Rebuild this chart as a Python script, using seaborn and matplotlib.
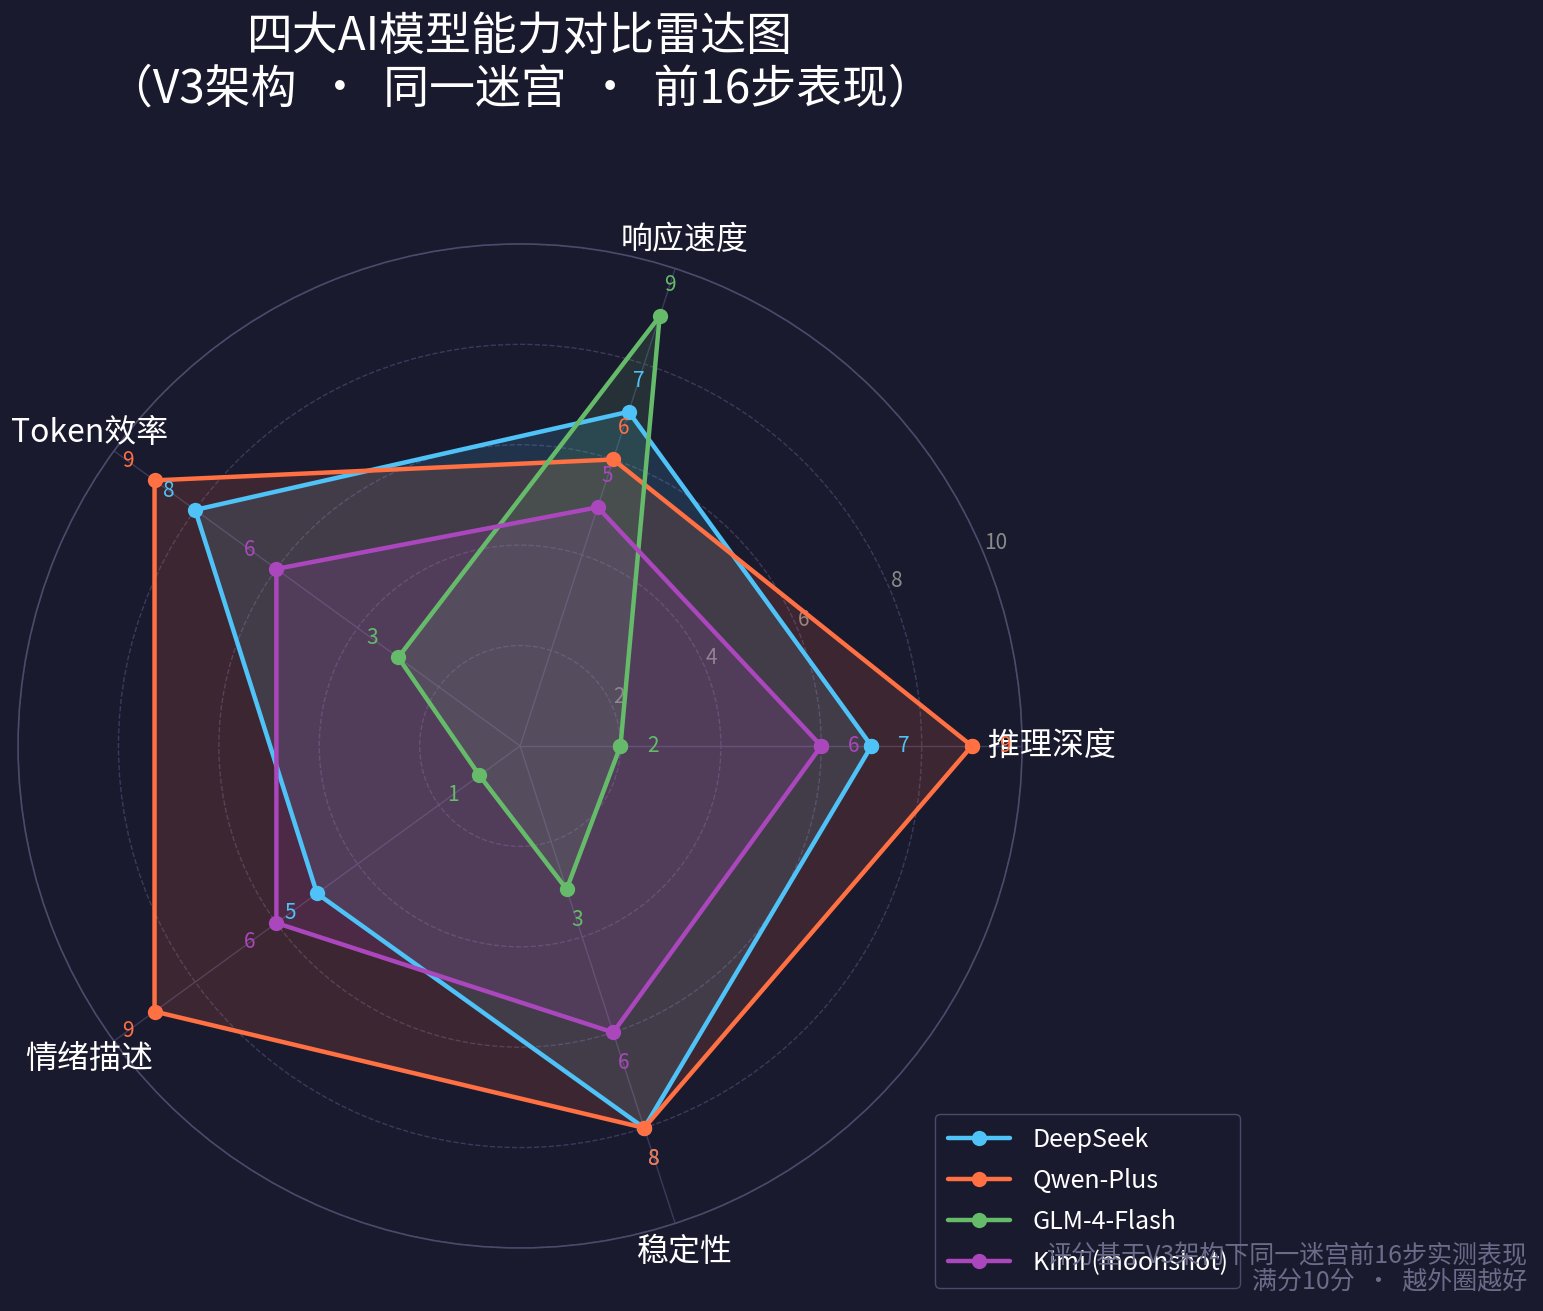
import numpy as np
import pandas as pd
import matplotlib
matplotlib.use('Agg')
import matplotlib.pyplot as plt
import seaborn as sns

# data
categories = ['推理深度', '响应速度', 'Token效率', '情绪描述', '稳定性']
models = ['DeepSeek', 'Qwen-Plus', 'GLM-4-Flash', 'Kimi (moonshot)']
deepseek = [7, 7, 8, 5, 8]
qwen = [9, 6, 9, 9, 8]
glm = [2, 9, 3, 1, 3]
kimi = [6, 5, 6, 6, 6]
colors = ['#4FC3F7', '#FF7043', '#66BB6A', '#AB47BC']
rticks = [2, 4, 6, 8, 10]

bg = '#1a1a2e'
grid_col = '#3a3a5c'

sns.set_style('dark')
plt.rcParams['font.family'] = ['Noto Sans CJK SC', 'DejaVu Sans']
plt.rcParams['axes.unicode_minus'] = False

n = len(categories)
angles = np.linspace(0, 2 * np.pi, n, endpoint=False)
angles_closed = np.append(angles, 2 * np.pi)

rows = []
for name, vals in zip(models, [deepseek, qwen, glm, kimi]):
    vv = list(vals) + [vals[0]]
    for a, v in zip(angles_closed, vv):
        rows.append({'model': name, 'angle': a, 'score': v})
df = pd.DataFrame(rows)

fig = plt.figure(figsize=(15.43, 13.11), dpi=100, facecolor=bg)
ax = fig.add_axes([0.0117, 0.048, 0.6507, 0.766], polar=True)
ax.set_facecolor(bg)

# fill first so the lines sit on top
for name, c in zip(models, colors):
    sub = df[df['model'] == name]
    ax.fill(sub['angle'], sub['score'], color=c, alpha=0.15, zorder=2)

sns.lineplot(data=df, x='angle', y='score', hue='model', hue_order=models,
             palette=colors, sort=False, estimator=None, errorbar=None,
             marker='o', markersize=11, markeredgewidth=0, linewidth=3.2,
             legend=False, ax=ax, zorder=3)

# value labels just outside each point
for name, c, vals in zip(models, colors, [deepseek, qwen, glm, kimi]):
    for a, v in zip(angles, vals):
        ax.text(a, v + 0.65, str(v), color=c, fontsize=15,
                ha='center', va='center', zorder=4)

ax.set_ylim(0, 10)
ax.set_yticks(rticks)
ax.set_yticklabels([str(t) for t in rticks], color='#8a8a8a', fontsize=15)
ax.set_rlabel_position(22.5)
ax.set_xticks(angles)
ax.set_xticklabels([])
ax.set_xlabel('')
ax.set_ylabel('')
for a, lab in zip(angles, categories):
    ax.text(a, 10.6, lab, color='white', fontsize=23, ha='center', va='center')

ax.grid(True)
ax.yaxis.grid(True, color=grid_col, linestyle='--', linewidth=1)
ax.xaxis.grid(True, color=grid_col, linestyle='-', linewidth=1)
ax.spines['polar'].set_color('#4a4a6a')
ax.spines['polar'].set_linewidth(1.2)

handles = ax.get_lines()[:len(models)]
leg = fig.legend(handles, models, loc='upper left', bbox_to_anchor=(0.606, 0.150),
                 fontsize=18, facecolor=bg, edgecolor='#4a4a6a', labelcolor='white',
                 framealpha=1, handlelength=2.5, handletextpad=0.9,
                 borderpad=0.5, labelspacing=0.6, borderaxespad=0)

fig.text(0.337, 0.952, '四大AI模型能力对比雷达图\n（V3架构  ·  同一迷宫  ·  前16步表现）',
         color='white', fontsize=33, ha='center', va='center', linespacing=1.1)

# footnote sits on top of the legend, as in the original
fig.text(0.990, 0.012, '评分基于V3架构下同一迷宫前16步实测表现\n满分10分  ·  越外圈越好',
         color='#6b6b8a', fontsize=18, ha='right', va='bottom', linespacing=1.0,
         zorder=10)

fig.savefig('out.png', dpi=100, facecolor=bg)
